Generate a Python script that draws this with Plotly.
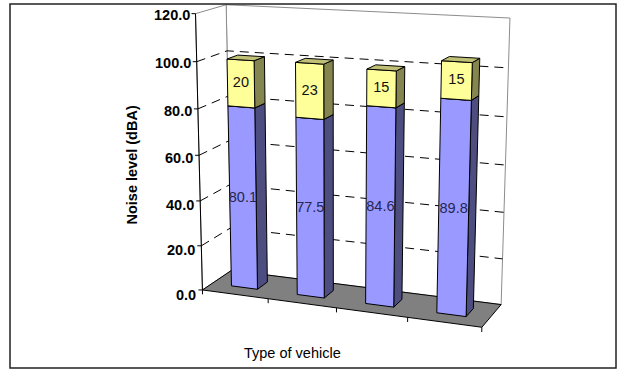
import numpy as np
import plotly.graph_objects as go

# ---------------- data ----------------
base_level = [80.1, 77.5, 84.6, 89.8]   # lower (blue) segment of each column, dBA
added_level = [20, 23, 15, 15]          # upper (yellow) segment of each column, dBA
y_ticks = [0, 20, 40, 60, 80, 100, 120]
y_tick_labels = ["0.0", "20.0", "40.0", "60.0", "80.0", "100.0", "120.0"]
y_title = "Noise level (dBA)"
x_title = "Type of vehicle"

# ---------------- page & 3-D view ----------------
W, H = 629, 374
N = len(base_level)
Y_MAX = y_ticks[-1]
FONT = "Liberation Sans, Arial, sans-serif"

# Plot box: X = category position (0..N), D = depth (0 front .. 1 back), Z = value.
# The camera is solved from where the box corners sit on the page (pixels).
VIEW_ANCHORS = [
    ((0, 0, 0), (203.0, 289.0)),
    ((1, 0, 0), (267.7, 298.0)),
    ((2, 0, 0), (336.7, 307.7)),
    ((3, 0, 0), (407.7, 317.7)),
    ((4, 0, 0), (482.0, 328.5)),
    ((0, 1, 0), (231.0, 272.0)),
    ((4, 1, 0), (501.0, 303.3)),
    ((0, 0, 120), (195.0, 14.0)),
    ((0, 1, 120), (226.7, 4.3)),
    ((4, 1, 120), (510.0, 18.3)),
    ((4, 1, 100), (508.3, 67.7)),
]

BAR_HALF_WIDTH = 0.2           # in category units
BAR_DEPTH = (0.33, 0.69)       # front / back of the columns
BLUE = dict(front="#9999FF", side="#4D4D80", top="#7373BF", text="#262650")
YELLOW = dict(front="#FFFF99", side="#85854F", top="#BFBF75", text="#111111")


def solve_camera(anchors):
    """Direct linear transform: 3x4 perspective matrix from box/page pairs."""
    world = np.array([a[0] for a in anchors], float)
    page = np.array([a[1] for a in anchors], float)

    def norm(p):
        c = p.mean(0)
        d = np.sqrt(((p - c) ** 2).sum(1)).mean()
        s = np.sqrt(p.shape[1]) / d
        T = np.eye(p.shape[1] + 1)
        T[:-1, :-1] *= s
        T[:-1, -1] = -s * c
        return T

    Tw, Tp = norm(world), norm(page)
    wh = (Tw @ np.c_[world, np.ones(len(world))].T).T
    ph = (Tp @ np.c_[page, np.ones(len(page))].T).T
    rows = []
    for (X, Y, Z, O), (u, v, _) in zip(wh, ph):
        rows.append([X, Y, Z, O, 0, 0, 0, 0, -u * X, -u * Y, -u * Z, -u * O])
        rows.append([0, 0, 0, 0, X, Y, Z, O, -v * X, -v * Y, -v * Z, -v * O])
    _, _, vt = np.linalg.svd(np.array(rows))
    Pn = vt[-1].reshape(3, 4)
    return np.linalg.inv(Tp) @ Pn @ Tw


P = solve_camera(VIEW_ANCHORS)


def project(x, d, z):
    h = P @ np.array([x, d, z, 1.0])
    return h[0] / h[2], h[1] / h[2]


def polygon(points, fill, line="#000000", width=1.0):
    pts = [project(*p) for p in points]
    pts.append(pts[0])
    return go.Scatter(
        x=[p[0] for p in pts], y=[p[1] for p in pts],
        mode="lines", fill="toself", fillcolor=fill,
        line=dict(color=line, width=width),
        hoverinfo="skip", showlegend=False,
    )


def polyline(points, color="#000000", width=1.0, dash="solid"):
    xs, ys = [], []
    for p in points:
        if p is None:
            xs.append(None)
            ys.append(None)
        else:
            px, py = project(*p)
            xs.append(px)
            ys.append(py)
    return go.Scatter(
        x=xs, y=ys, mode="lines",
        line=dict(color=color, width=width, dash=dash),
        hoverinfo="skip", showlegend=False,
    )


traces = []

# walls and floor
traces.append(polygon([(0, 1, 0), (N, 1, 0), (N, 1, Y_MAX), (0, 1, Y_MAX)], "#FFFFFF", "#8C8C8C"))
traces.append(polygon([(0, 0, 0), (0, 1, 0), (0, 1, Y_MAX), (0, 0, Y_MAX)], "#FFFFFF", "#8C8C8C"))
traces.append(polygon([(0, 0, 0), (N, 0, 0), (N, 1, 0), (0, 1, 0)], "#808080", "#000000"))

# dashed gridlines across the left and back walls
grid = []
for v in y_ticks[1:-1]:
    grid += [(0, 0, v), (0, 1, v), (N, 1, v), None]
traces.append(polyline(grid, "#000000", 1, "9px,6px"))

# value axis edge and category axis ticks along the front of the floor
traces.append(polyline([(0, 0, 0), (0, 0, Y_MAX)], "#000000", 1))
cat_ticks = []
for k in range(N + 1):
    cat_ticks += [(k, 0, 0), (k, 0, -2.0), None]
traces.append(polyline(cat_ticks, "#000000", 1))

# short outward tick marks on the value axis
tick_x, tick_y = [], []
for v in y_ticks:
    px, py = project(0, 0, v)
    tick_x += [px, px - 4, None]
    tick_y += [py, py, None]
traces.append(go.Scatter(x=tick_x, y=tick_y, mode="lines", line=dict(color="#000000", width=1),
                         hoverinfo="skip", showlegend=False))

# stacked 3-D columns
label_x, label_y, label_t, label_c = [], [], [], []
d0, d1 = BAR_DEPTH
for i in range(N):
    x0, x1 = i + 0.5 - BAR_HALF_WIDTH, i + 0.5 + BAR_HALF_WIDTH
    segments = [
        (0.0, base_level[i], BLUE, base_level[i]),
        (base_level[i], base_level[i] + added_level[i], YELLOW, added_level[i]),
    ]
    for z0, z1, col, val in segments:
        traces.append(polygon([(x1, d0, z0), (x1, d1, z0), (x1, d1, z1), (x1, d0, z1)], col["side"]))
        traces.append(polygon([(x0, d0, z0), (x1, d0, z0), (x1, d0, z1), (x0, d0, z1)], col["front"]))
        traces.append(polygon([(x0, d0, z1), (x1, d0, z1), (x1, d1, z1), (x0, d1, z1)], col["top"]))
        lx, ly = project((x0 + x1) / 2, d0, (z0 + z1) / 2)
        label_x.append(lx)
        label_y.append(ly)
        label_t.append(f"{val:g}")
        label_c.append(col["text"])

traces.append(go.Scatter(
    x=label_x, y=label_y, mode="text", text=label_t,
    textfont=dict(family=FONT, size=14.5, color=label_c),
    hoverinfo="skip", showlegend=False,
))

fig = go.Figure(traces)

annotations = []
for v, t in zip(y_ticks, y_tick_labels):
    px, py = project(0, 0, v)
    annotations.append(dict(
        x=px - 4, y=py, xref="x", yref="y", text=f"<b>{t}</b>",
        showarrow=False, xanchor="right", yanchor="middle",
        yshift=-(1 + 4 * (1 - v / Y_MAX)),
        font=dict(family=FONT, size=14.5, color="#000000"),
    ))
annotations.append(dict(
    x=131.5, y=165, xref="x", yref="y", text=f"<b>{y_title}</b>", textangle=-90,
    showarrow=False, xanchor="center", yanchor="middle",
    font=dict(family=FONT, size=14.5, color="#000000"),
))
annotations.append(dict(
    x=292, y=353, xref="x", yref="y", text=x_title,
    showarrow=False, xanchor="center", yanchor="middle",
    font=dict(family=FONT, size=14.5, color="#000000"),
))

fig.update_layout(
    width=W, height=H,
    margin=dict(l=0, r=0, t=0, b=0),
    paper_bgcolor="#FFFFFF", plot_bgcolor="#FFFFFF",
    xaxis=dict(range=[0, W], visible=False, fixedrange=True),
    yaxis=dict(range=[H, 0], visible=False, fixedrange=True),
    annotations=annotations,
    shapes=[dict(type="rect", xref="x", yref="y", x0=10, y0=4, x1=616, y1=368,
                 line=dict(color="#222222", width=1.5), layer="above")],
    showlegend=False,
)

fig.write_html("out.html", config={"displayModeBar": False})
